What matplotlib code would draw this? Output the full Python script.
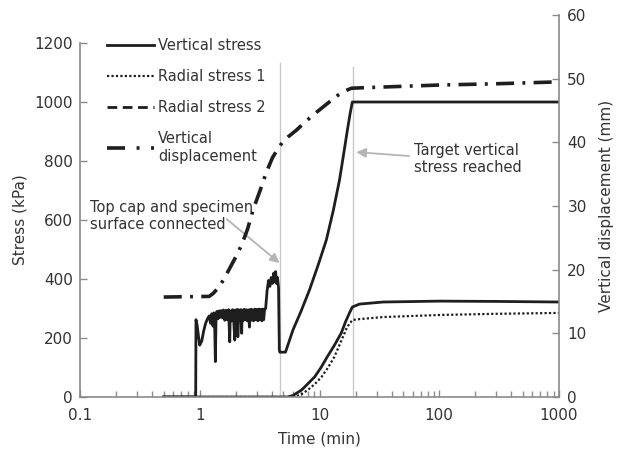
import matplotlib.pyplot as plt
from matplotlib.lines import Line2D
from matplotlib.ticker import FixedLocator, LogLocator, NullFormatter

# vertical stress (kPa) vs time (min)
t_vs = [0.5, 0.925, 0.93, 0.95, 0.98, 1.0, 1.04, 1.08, 1.12, 1.16, 1.2, 1.23, 1.26,
        1.29, 1.31, 1.33, 1.35, 1.37, 1.39, 1.42, 1.45, 1.48, 1.51, 1.55, 1.58, 1.62,
        1.66, 1.70, 1.74, 1.78, 1.80, 1.84, 1.88, 1.92, 1.96, 1.98, 2.02, 2.06, 2.08,
        2.12, 2.16, 2.20, 2.24, 2.26, 2.30, 2.35, 2.40, 2.45, 2.50, 2.55, 2.60, 2.62,
        2.66, 2.70, 2.72, 2.76, 2.82, 2.88, 2.94, 3.0, 3.06, 3.12, 3.18, 3.24, 3.30,
        3.36, 3.42, 3.48, 3.55, 3.65, 3.75, 3.85, 3.95, 4.05, 4.15, 4.22, 4.3, 4.38,
        4.46, 4.55, 4.62, 4.66, 5.2, 6.0, 7.0, 8.25, 9.7, 11.4, 13.0, 14.7, 16.0,
        17.1, 18.0, 18.8, 30, 100, 300, 1000]
s_vs = [0, 0, 262, 245, 200, 176, 190, 225, 250, 265, 275, 250, 282,
        240, 285, 260, 120, 280, 290, 265, 292, 270, 293, 268, 295, 260,
        294, 262, 296, 187, 292, 258, 296, 262, 193, 295, 258, 297, 204,
        295, 260, 296, 216, 295, 258, 297, 262, 296, 258, 295, 237, 296,
        260, 297, 261, 295, 258, 298, 262, 297, 258, 298, 262, 297, 258,
        298, 262, 297, 300, 360, 395, 375, 405, 385, 420, 390, 425, 385,
        405, 370, 160, 152, 152, 227, 290, 363, 445, 532, 630, 736, 830,
        905, 960, 1000, 1000, 1000, 1000, 1000]

# radial stress 1 (kPa)
t_rs1 = [0.5, 6.0, 7.0, 8.0, 9.2, 10.4, 11.8, 13.3, 15.0, 17.0, 18.8, 21.6, 34, 100, 300, 1000]
s_rs1 = [0, 0, 8, 24, 45, 68, 100, 136, 185, 237, 261, 264, 271, 278, 282, 285]

# radial stress 2 (kPa)
t_rs2 = [0.5, 5.4, 6.0, 7.1, 8.0, 9.1, 10.3, 11.6, 13.3, 15.2, 16.5, 17.8, 18.8, 21.6, 34, 100, 300, 1000]
s_rs2 = [0, 0, 5, 24, 45, 68, 100, 136, 175, 217, 255, 285, 305, 315, 322, 325, 324, 322]

# vertical displacement (mm)
t_vd = [0.5, 1.2, 1.3, 1.45, 1.6, 1.8, 2.0, 2.25, 2.5, 2.8, 3.2, 3.6, 4.05, 4.5, 4.9,
        5.5, 6.4, 7.5, 8.6, 10, 12, 14, 16, 18.5, 25, 50, 100, 300, 1000]
d_vd = [15.7, 15.8, 16.3, 17.3, 18.6, 20.4, 22.0, 24.0, 26.3, 29.5, 32.5, 35.3, 37.6, 39.0, 40.0,
        40.9, 41.9, 43.1, 44.1, 45.1, 46.3, 47.3, 48.0, 48.5, 48.6, 48.8, 49.0, 49.2, 49.5]

# event markers (min)
t_connect = 4.64
t_target = 18.9

x_ticks = [0.1, 1, 10, 100, 1000]
x_labels = ['0.1', '1', '10', '100', '1000']
stress_ticks = [0, 200, 400, 600, 800, 1000, 1200]
disp_ticks = [0, 10, 20, 30, 40, 50, 60]

line_col = '#1e1e1e'
text_col = '#333333'
spine_col = '#8a8a8a'
guide_col = '#c8c8c8'

fig = plt.figure(figsize=(6.21, 4.5), dpi=100)
ax = fig.add_axes([80 / 621, 53 / 450, 479 / 621, 382 / 450])
ax2 = ax.twinx()

# guide lines
ax.plot([t_connect, t_connect], [0, 1132], color=guide_col, lw=1.0, zorder=1)
ax.plot([t_target, t_target], [0, 1119], color=guide_col, lw=1.0, zorder=1)

ax.plot(t_rs1, s_rs1, color=line_col, lw=1.6, linestyle=(0, (1, 1)))
ax.plot(t_rs2, s_rs2, color=line_col, lw=2.0)
ax.plot(t_vs, s_vs, color=line_col, lw=2.0)
ax2.plot(t_vd, d_vd, color=line_col, lw=2.6, linestyle=(0, (5, 2.3, 0.8, 2.3)))

ax.set_xscale('log')
ax.set_xlim(0.1, 1000)
ax.set_ylim(0, 1200 * 382 / 354)
ax2.set_ylim(0, 60)

ax.xaxis.set_major_locator(FixedLocator(x_ticks))
ax.set_xticklabels(x_labels)
ax.xaxis.set_minor_locator(LogLocator(base=10, subs=range(2, 10)))
ax.xaxis.set_minor_formatter(NullFormatter())
ax.set_yticks(stress_ticks)
ax2.set_yticks(disp_ticks)

for a in (ax, ax2):
    a.spines['top'].set_visible(False)
    for sp in a.spines.values():
        sp.set_color(spine_col)
        sp.set_linewidth(1.2)
    a.tick_params(which='both', direction='in', color=spine_col, labelcolor=text_col,
                  labelsize=11, width=1.0)
    a.tick_params(which='major', length=5)
    a.tick_params(which='minor', length=4)
ax.tick_params(axis='x', which='both', pad=8)
ax.tick_params(axis='y', pad=5)
ax2.tick_params(axis='y', pad=6)
ax.spines['right'].set_visible(False)
ax.spines['left'].set_bounds(0, 1200)
ax2.spines['left'].set_visible(False)
ax2.spines['bottom'].set_visible(False)

ax.set_xlabel('Time (min)', fontsize=11, color=text_col, labelpad=6)
ax.set_ylabel('Stress (kPa)', fontsize=11, color=text_col)
ax.yaxis.set_label_coords(-0.11, 177 / 382)
ax2.set_ylabel('Vertical displacement (mm)', fontsize=11, color=text_col, labelpad=9)

# annotations
arrow = dict(arrowstyle='-|>', color='#b4b4b4', lw=1.3, mutation_scale=14, shrinkA=0, shrinkB=0)
ax.annotate('', xy=(4.64, 454), xytext=(1.68, 603), arrowprops=arrow)
ax.annotate('', xy=(20.3, 830), xytext=(56, 817), arrowprops=arrow)
ax.text(0.121, 613, 'Top cap and specimen\nsurface connected', fontsize=10.5,
        color=text_col, ha='left', va='center')
ax.text(61.5, 807, 'Target vertical\nstress reached', fontsize=10.5,
        color=text_col, ha='left', va='center')

handles = [
    Line2D([], [], color=line_col, lw=2.0),
    Line2D([], [], color=line_col, lw=1.6, linestyle=(0, (1, 1))),
    Line2D([], [], color=line_col, lw=2.0, linestyle=(0, (3.5, 2))),
    Line2D([], [], color=line_col, lw=2.6, linestyle=(0, (5, 3.2, 0.8, 3.2))),
]
labels = ['Vertical stress', 'Radial stress 1', 'Radial stress 2', 'Vertical\ndisplacement']
leg = ax2.legend(handles, labels, loc='upper left', bbox_to_anchor=(107 / 621, 1 - 38 / 450),
                 bbox_transform=fig.transFigure, frameon=False, fontsize=10.5,
                 handlelength=3.2, handletextpad=0.3, labelspacing=1.1,
                 borderpad=0, borderaxespad=0)
for txt in leg.get_texts():
    txt.set_color(text_col)

fig.savefig('out.png', dpi=100)
